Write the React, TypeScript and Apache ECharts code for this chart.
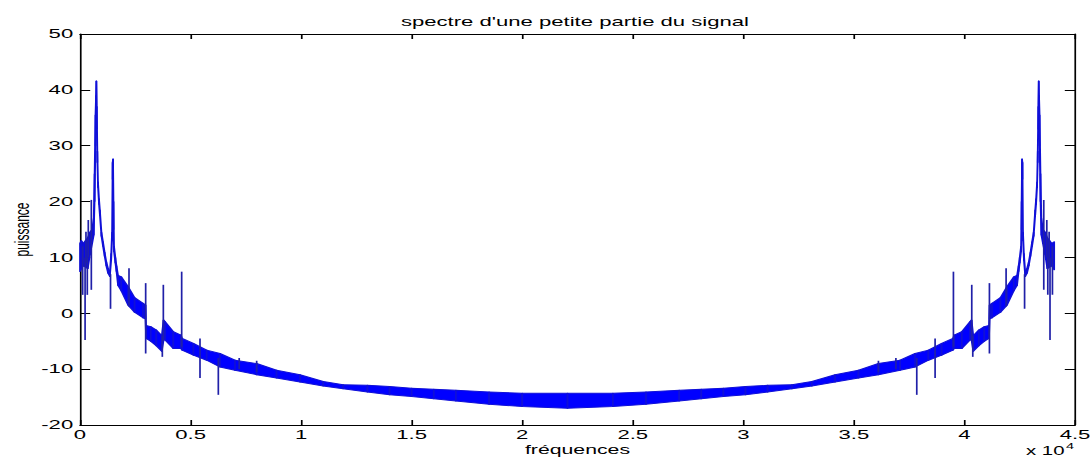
import React, { useEffect, useRef } from "react";
import * as echarts from "echarts";

// The reference figure is horizontally stretched; draw at native width and stretch with CSS.
const SX = 1.7;
const W = 1092 / SX;
const H = 458;

const FONT = "'Liberation Sans', Arial, Helvetica, sans-serif";

const titleText = "spectre d'une petite partie du signal";
const xName = "fréquences";
const yName = "puissance";

// x axis: frequency in Hz, labelled in units of 10^4
const xMin = 0;
const xMax = 45000;
const xStep = 5000;
const yMin = -20;
const yMax = 50;
const yStep = 10;

// envelope of the dense spectrum (Hz, dB)
const freqs = [
  0, 60, 150, 250, 350, 450, 550, 620, 660, 700,
  725, 740, 760, 785, 815, 860, 900, 970, 1040, 1115,
  1190, 1270, 1350, 1410, 1450, 1475, 1495, 1515, 1540, 1600,
  1650, 1720, 1870, 2170, 2470, 2850, 2960, 2990, 3200, 3450,
  3700, 3780, 3850, 4220, 4560, 4620, 5130, 5730, 6330, 7010,
  7990, 8890, 9950, 11000, 11900, 13000, 14000, 15000, 16000, 17000,
  18500, 20000, 22050,
  24100, 25600, 27100, 28100, 29100, 30100, 31100, 32200, 33100, 34150,
  35210, 36110, 37090, 37770, 38370, 38970, 39480, 39540, 39880, 40250,
  40320, 40400, 40650, 40900, 41110, 41140, 41250, 41630, 41930, 42230,
  42380, 42450, 42500, 42560, 42585, 42605, 42625, 42650, 42690, 42750,
  42830, 42910, 42985, 43060, 43130, 43200, 43240, 43285, 43315, 43340,
  43360, 43375, 43400, 43440, 43480, 43550, 43650, 43750, 43850, 43950,
  44060,
];

const bandLow = [
  7.5, 8.0, 8.5, 8.3, 8.0, 10.5, 12.5, 14.0, 20.0, 30.0,
  36.0, 37.5, 33.0, 27.0, 22.5, 19.5, 17.5, 13.8, 12.0, 10.2,
  8.5, 7.2, 6.6, 9.5, 13.0, 24.0, 25.0, 15.0, 11.0, 9.0,
  7.5, 5.0, 4.0, 1.5, 0.2, -0.8, -1.0, -4.5, -5.0, -5.8,
  -6.8, -4.8, -4.8, -6.3, -6.3, -6.6, -7.5, -8.4, -9.6, -10.2,
  -11.0, -11.6, -12.3, -13.0, -13.5, -14.1, -14.6, -14.9, -15.3, -15.7,
  -16.3, -16.7, -17.0,
  -16.7, -16.3, -15.7, -15.3, -14.9, -14.6, -14.1, -13.5, -13.0, -12.3,
  -11.6, -11.0, -10.2, -9.6, -8.4, -7.5, -6.6, -6.3, -6.3, -4.8,
  -4.8, -6.8, -5.8, -5.0, -4.5, -1.0, -0.8, 0.2, 1.5, 4.0,
  5.0, 7.5, 9.0, 11.0, 15.0, 25.0, 24.0, 13.0, 9.5, 6.6,
  7.2, 8.5, 10.2, 12.0, 13.8, 17.5, 19.5, 22.5, 27.0, 33.0,
  37.5, 36.0, 30.0, 20.0, 14.0, 12.5, 10.5, 8.0, 8.3, 8.5,
  7.8,
];

const bandHigh = [
  12.5, 13.0, 12.5, 13.0, 13.5, 14.5, 15.0, 17.0, 25.0, 35.5,
  39.0, 41.6, 37.0, 29.0, 23.5, 20.5, 18.5, 14.5, 12.8, 10.9,
  9.2, 8.0, 7.4, 10.7, 14.5, 27.0, 27.6, 20.0, 12.0, 10.0,
  8.5, 6.8, 6.5, 4.8, 2.8, 1.8, 1.5, -2.2, -2.4, -3.0,
  -4.0, -1.2, -1.5, -3.3, -3.9, -4.5, -5.4, -6.6, -7.2, -8.4,
  -9.0, -10.2, -11.0, -12.2, -12.8, -12.9, -13.1, -13.4, -13.6, -13.8,
  -14.1, -14.3, -14.3,
  -14.3, -14.1, -13.8, -13.6, -13.4, -13.1, -12.9, -12.8, -12.2, -11.0,
  -10.2, -9.0, -8.4, -7.2, -6.6, -5.4, -4.5, -3.9, -3.3, -1.5,
  -1.2, -4.0, -3.0, -2.4, -2.2, 1.5, 1.8, 2.8, 4.8, 6.5,
  6.8, 8.5, 10.0, 12.0, 20.0, 27.6, 27.0, 14.5, 10.7, 7.4,
  8.0, 9.2, 10.9, 12.8, 14.5, 18.5, 20.5, 23.5, 29.0, 37.0,
  41.6, 39.0, 35.5, 25.0, 17.0, 15.0, 14.5, 13.5, 13.0, 12.5,
  12.8,
];

// isolated narrow spikes (Hz, low dB, high dB)
const spikeFreqs = [
  120, 230, 270, 330, 375, 512, 1380, 2216, 2970, 3723, 3769, 4598, 5427, 6256, 7200, 7990,
  36110, 36900, 37844, 38673, 39502, 40331, 40377, 41130, 41884, 42720, 43588, 43725, 43770, 43830, 43870, 43980,
];
const spikeLow = [
  3.3, -4.8, 9, 3.3, 10, 4.2, 0.8, 1.2, -7.2, -7.8, -5, -6, -11.6, -14.6, -10, -10.5,
  -10.5, -10, -14.6, -11.6, -6, -5, -7.8, -7.2, 1.2, 0.8, 4.2, 10, 3.3, 9, -4.8, 3.3,
];
const spikeHigh = [
  12, 10, 14.6, 10, 16.7, 20.3, 7, 8.05, 5.4, -4, 5.1, 7.45, -4.5, -8, -8, -8.5,
  -8.5, -8, -8, -4.5, 7.45, 5.1, -4, 5.4, 8.05, 7, 20.3, 16.7, 10, 14.6, 10, 12,
];

const BAND_COLOR = "#0000ff";
const LINE_COLOR = "#1010d8";
const SPIKE_COLOR = "#2020a8";

export default function App() {
  const ref = useRef<HTMLDivElement>(null);

  useEffect(() => {
    if (!ref.current) return;
    const chart = echarts.init(ref.current, null, { renderer: "svg", width: W, height: H });

    const plotLeft = 47.06;
    const plotRight = 632.35;
    const axisLine = { show: true, onZero: false, lineStyle: { color: "#000", width: 1 } };
    const labelStyle = { color: "#000", fontSize: 13, fontFamily: FONT };

    const bandData = freqs.map((f, i) => [f, bandLow[i], bandHigh[i]]);
    const spikeData = spikeFreqs.map((f, i) => [f, spikeLow[i], spikeHigh[i]]);

    chart.setOption({
      animation: false,
      backgroundColor: "#ffffff",
      title: {
        text: titleText,
        left: (plotLeft + plotRight) / 2 - 1.5,
        top: 15,
        padding: 0,
        textAlign: "center",
        textStyle: { color: "#000", fontSize: 13, fontWeight: "normal", fontFamily: FONT },
      },
      grid: {
        left: plotLeft,
        right: W - plotRight,
        top: 34,
        bottom: 33,
        containLabel: false,
        outerBoundsMode: "none",
      },
      xAxis: [
        {
          type: "value",
          position: "bottom",
          min: xMin,
          max: xMax,
          interval: xStep,
          axisLine,
          axisTick: { show: true, inside: true, length: 5, lineStyle: { color: "#000" } },
          axisLabel: {
            ...labelStyle,
            margin: 3,
            lineHeight: 13,
            formatter: (v: number) => String(v / 10000),
          },
          splitLine: { show: false },
          name: xName,
          nameLocation: "middle",
          nameGap: 18,
          nameMoveOverlap: false,
          nameTextStyle: { ...labelStyle, fontSize: 12.5, lineHeight: 13 },
        },
        {
          type: "value",
          position: "top",
          min: xMin,
          max: xMax,
          interval: xStep,
          axisLine,
          axisTick: { show: true, inside: true, length: 5, lineStyle: { color: "#000" } },
          axisLabel: { show: false },
          splitLine: { show: false },
        },
      ],
      yAxis: [
        {
          type: "value",
          position: "left",
          min: yMin,
          max: yMax,
          interval: yStep,
          axisLine,
          axisTick: { show: true, inside: true, length: 6, lineStyle: { color: "#000" } },
          axisLabel: { ...labelStyle, margin: 4 },
          splitLine: { show: false },
          name: yName,
          nameLocation: "middle",
          nameGap: 28,
          nameMoveOverlap: false,
          nameTextStyle: { color: "#000", fontSize: 12, fontFamily: FONT },
        },
        {
          type: "value",
          position: "right",
          min: yMin,
          max: yMax,
          interval: yStep,
          axisLine,
          axisTick: { show: true, inside: true, length: 6, lineStyle: { color: "#000" } },
          axisLabel: { show: false },
          splitLine: { show: false },
        },
      ],
      series: [
        {
          type: "custom",
          xAxisIndex: 0,
          yAxisIndex: 0,
          data: bandData,
          encode: { x: 0, y: [1, 2] },
          silent: true,
          z: 2,
          renderItem: (params: any, api: any) => {
            const i = params.dataIndex;
            if (i >= freqs.length - 1) return null;
            const p1 = api.coord([freqs[i], bandLow[i]]);
            const p2 = api.coord([freqs[i + 1], bandLow[i + 1]]);
            const p3 = api.coord([freqs[i + 1], bandHigh[i + 1]]);
            const p4 = api.coord([freqs[i], bandHigh[i]]);
            return {
              type: "polygon",
              shape: { points: [p1, p2, p3, p4] },
              style: { fill: BAND_COLOR, stroke: LINE_COLOR, lineWidth: 1, lineJoin: "round" },
            };
          },
        },
        {
          type: "custom",
          xAxisIndex: 0,
          yAxisIndex: 0,
          data: spikeData,
          encode: { x: 0, y: [1, 2] },
          silent: true,
          z: 3,
          renderItem: (_params: any, api: any) => {
            const a = api.coord([api.value(0), api.value(1)]);
            const b = api.coord([api.value(0), api.value(2)]);
            return {
              type: "line",
              shape: { x1: a[0], y1: a[1], x2: b[0], y2: b[1] },
              style: { stroke: SPIKE_COLOR, lineWidth: 1 },
            };
          },
        },
      ],
      graphic: [
        {
          type: "text",
          x: 603.5,
          y: 445,
          silent: true,
          style: { text: "x 10", fontSize: 12, fontFamily: FONT, fill: "#000", align: "left", verticalAlign: "top" },
        },
        {
          type: "text",
          x: 627,
          y: 441.5,
          silent: true,
          style: { text: "4", fontSize: 8.5, fontFamily: FONT, fill: "#000", align: "left", verticalAlign: "top" },
        },
      ],
    });

    return () => chart.dispose();
  }, []);

  return (
    <div
      style={{
        position: "fixed",
        left: 0,
        top: 0,
        width: W,
        height: H,
        transform: `scaleX(${SX})`,
        transformOrigin: "0 0",
        background: "#fff",
      }}
    >
      <div ref={ref} style={{ width: W, height: H }} />
    </div>
  );
}
